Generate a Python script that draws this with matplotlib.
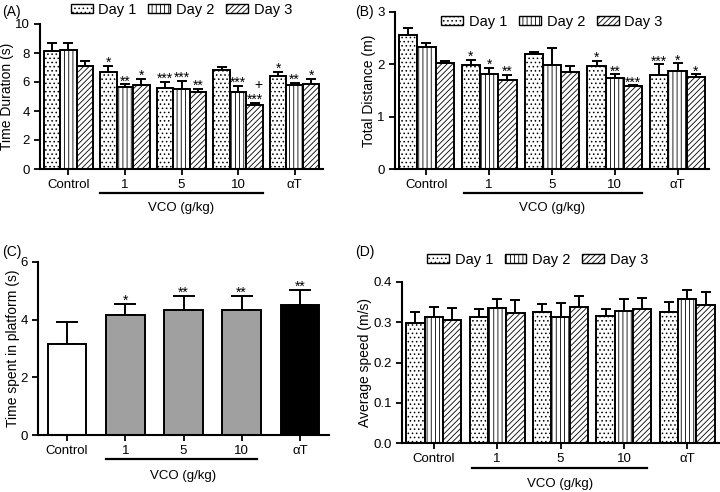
import numpy as np
import matplotlib
matplotlib.use("Agg")
import matplotlib.pyplot as plt
from matplotlib.patches import Patch
from matplotlib.transforms import ScaledTranslation

plt.rcParams['font.family'] = ['Liberation Sans', 'DejaVu Sans']
plt.rcParams['hatch.linewidth'] = 0.6

groups = ["Control", "1", "5", "10", "αT"]
days = ["Day 1", "Day 2", "Day 3"]
hatches = ["....", "||||", "//////"]

# (A) time duration (s)
time_mean = [[8.17, 6.67, 5.62, 6.83, 6.40],
             [8.20, 5.64, 5.53, 5.34, 5.76],
             [7.10, 5.78, 5.30, 4.40, 5.85]]
time_err = [[0.53, 0.46, 0.38, 0.23, 0.32],
            [0.50, 0.21, 0.57, 0.39, 0.20],
            [0.35, 0.46, 0.25, 0.16, 0.35]]
time_sig = [["", "*", "***", "", "*"],
            ["", "**", "***", "***", "**"],
            ["", "*", "**", "***", "*"]]

# (B) total distance (m)
dist_mean = [[2.56, 1.99, 2.19, 1.97, 1.79],
             [2.34, 1.82, 1.98, 1.73, 1.88],
             [2.03, 1.71, 1.86, 1.58, 1.76]]
dist_err = [[0.13, 0.10, 0.04, 0.10, 0.21],
            [0.07, 0.11, 0.34, 0.08, 0.14],
            [0.03, 0.09, 0.10, 0.02, 0.05]]
dist_sig = [["", "*", "", "*", "***"],
            ["", "*", "", "**", "*"],
            ["", "**", "", "***", "*"]]

# (C) time spent in platform (s)
plat_mean = [3.17, 4.16, 4.33, 4.33, 4.50]
plat_err = [0.74, 0.40, 0.50, 0.50, 0.54]
plat_sig = ["", "*", "**", "**", "**"]
plat_colors = ["white", "#a0a0a0", "#a0a0a0", "#a0a0a0", "black"]

# (D) average speed (m/s)
speed_mean = [[0.297, 0.313, 0.326, 0.315, 0.326],
              [0.312, 0.336, 0.312, 0.329, 0.357],
              [0.305, 0.322, 0.339, 0.332, 0.342]]
speed_err = [[0.029, 0.019, 0.019, 0.017, 0.024],
             [0.025, 0.021, 0.036, 0.030, 0.022],
             [0.031, 0.033, 0.025, 0.028, 0.033]]

fig = plt.figure(figsize=(7.2, 4.92), dpi=100)
W, H = 720, 492


def make_axes(left, top, right, bottom):
    return fig.add_axes([left / W, 1 - bottom / H, (right - left) / W, (bottom - top) / H])


def style(ax, ymax, yticks, ylabel):
    ax.set_xlim(-0.5, 4.5)
    ax.set_ylim(0, ymax)
    ax.set_yticks(yticks)
    ax.set_xticks(range(len(groups)))
    ax.set_xticklabels(groups)
    for s in ["top", "right"]:
        ax.spines[s].set_visible(False)
    for s in ["left", "bottom"]:
        ax.spines[s].set_linewidth(1.5)
    ax.tick_params(width=1.3, length=4, labelsize=9.5)
    ax.set_ylabel(ylabel, fontsize=10, labelpad=0.5)


def vco(ax, x0, x1, dline, dlabel):
    trans = ax.get_xaxis_transform() + ScaledTranslation(0, -dline * 0.72 / 72, fig.dpi_scale_trans)
    ax.plot([x0, x1], [0, 0], color="black", lw=1.6, transform=trans, clip_on=False)
    trans2 = ax.get_xaxis_transform() + ScaledTranslation(0, -dlabel * 0.72 / 72, fig.dpi_scale_trans)
    ax.text(2, 0, "VCO (g/kg)", ha="center", va="center", fontsize=9.5, transform=trans2)


def star(ax, x, y, s, dy=-3):
    ax.annotate(s, (x, y), xytext=(0, dy), textcoords="offset points",
                ha="center", va="bottom", fontsize=10)


def grouped(ax, means, errs, sigs=None):
    x = np.arange(len(groups))
    w = 0.29
    for i in range(3):
        xi = x + (i - 1) * w
        ax.bar(xi, means[i], w, color="white", edgecolor="black", hatch=hatches[i], linewidth=1.4, zorder=2)
        ax.errorbar(xi, means[i], yerr=[np.zeros(5), errs[i]], fmt="none", ecolor="black",
                    elinewidth=1.4, capsize=3.5, capthick=1.4, zorder=3)
        if sigs is not None:
            for j in range(5):
                if sigs[i][j]:
                    star(ax, xi[j], means[i][j] + errs[i][j], sigs[i][j])


def legend(ax, **kw):
    handles = [Patch(facecolor="white", edgecolor="black", hatch=h, linewidth=1.0) for h in hatches]
    ax.legend(handles, days, ncol=3, frameon=False, fontsize=10.5, handlelength=1.5,
              handleheight=0.6, columnspacing=0.8, handletextpad=0.4, borderaxespad=0, **kw)


# (A)
axA = make_axes(40, 24, 323, 169)
grouped(axA, time_mean, time_err, time_sig)
axA.annotate("+", (3.35, time_mean[2][3] + time_err[2][3]), xytext=(0, 8),
             textcoords="offset points", ha="center", va="bottom", fontsize=10)
style(axA, 10, [0, 2, 4, 6, 8, 10], "Time Duration (s)")
vco(axA, 0.56, 3.44, 24, 39)
legend(axA, loc="lower center", bbox_to_anchor=(0.5, 1.01))

# (B)
axB = make_axes(395, 12, 709, 169)
grouped(axB, dist_mean, dist_err, dist_sig)
style(axB, 3, [0, 1, 2, 3], "Total Distance (m)")
vco(axB, 0.6, 3.44, 24, 39)
legend(axB, loc="upper center", bbox_to_anchor=(0.5, 1.02))

# (C)
axC = make_axes(38, 262, 329, 435)
xc = np.arange(len(groups))
axC.bar(xc, plat_mean, 0.66, color=plat_colors, edgecolor="black", linewidth=1.4, zorder=2)
axC.errorbar(xc, plat_mean, yerr=[np.zeros(5), plat_err], fmt="none", ecolor="black",
             elinewidth=1.4, capsize=8, capthick=1.4, zorder=1)
for j in range(5):
    if plat_sig[j]:
        star(axC, xc[j], plat_mean[j] + plat_err[j], plat_sig[j])
style(axC, 6, [0, 2, 4, 6], "Time spent in platform (s)")
vco(axC, 0.67, 3.26, 24, 41)

# (D)
axD = make_axes(402, 282, 719, 443)
grouped(axD, speed_mean, speed_err)
style(axD, 0.4, [0.0, 0.1, 0.2, 0.3, 0.4], "Average speed (m/s)")
axD.set_yticklabels(["0.0", "0.1", "0.2", "0.3", "0.4"])
vco(axD, 0.6, 3.36, 25, 41)
legend(axD, loc="lower left", bbox_to_anchor=(0.06, 1.06))

fig.text(2 / W, 1 - 12 / H, "(A)", fontsize=10, va="center")
fig.text(355 / W, 1 - 12 / H, "(B)", fontsize=10, va="center")
fig.text(2 / W, 1 - 252 / H, "(C)", fontsize=10, va="center")
fig.text(355 / W, 1 - 252 / H, "(D)", fontsize=10, va="center")

fig.savefig("out.png", dpi=100)
